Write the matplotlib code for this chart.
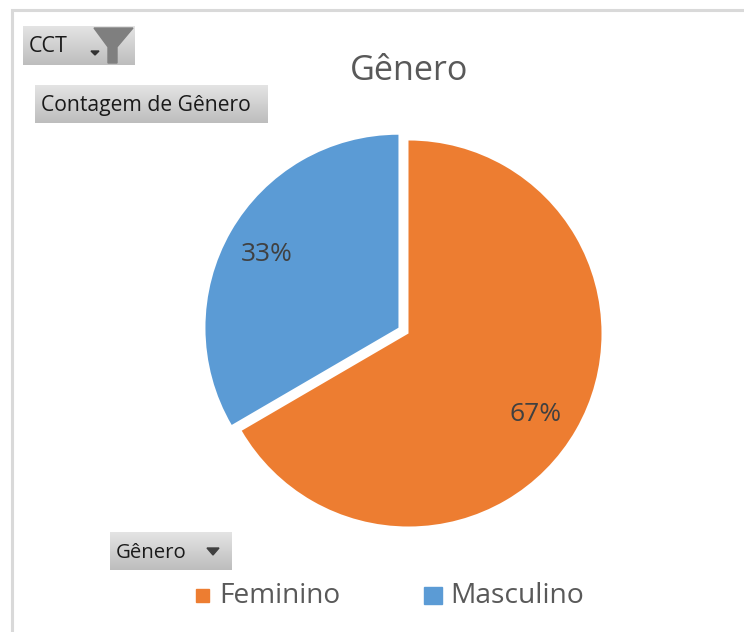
import numpy as np
import matplotlib
matplotlib.use("Agg")
import matplotlib.pyplot as plt
from matplotlib.patches import Rectangle, Polygon

# Datos del gráfico
categorias = ["Feminino", "Masculino"]
valores = [66.6, 33.4]
cores = ["#ED7D31", "#5B9BD5"]
titulo = "Gênero"

W, H = 744, 632
plt.rcParams["font.family"] = ["Open Sans", "DejaVu Sans"]

fig = plt.figure(figsize=(W / 100, H / 100), dpi=100, facecolor="white")

# Pastel: centro (408.5, 333.5) y radio de 193 px
cx, cy, r = 408.5, 333.5, 193
lado = r * 1.2
ax_pie = fig.add_axes([(cx - lado) / W, 1 - (cy + lado) / H, 2 * lado / W, 2 * lado / H], zorder=1)
_, _, etiquetas = ax_pie.pie(
    valores,
    colors=cores,
    explode=[0, 0.06],
    startangle=90,
    counterclock=False,
    autopct="%.0f%%",
    pctdistance=0.79,
    textprops={"fontsize": 19, "color": "#404040"},
)
for et in etiquetas:
    et.set_va("center_baseline")
# La etiqueta de Feminino queda un poco más hacia el centro en el original
x_et, y_et = etiquetas[0].get_position()
etiquetas[0].set_position((x_et - 0.027, y_et - 0.01))
ax_pie.set_xlim(-1.2, 1.2)
ax_pie.set_ylim(-1.2, 1.2)

# Capa en píxeles para marco, botones y leyenda
ax = fig.add_axes([0, 0, 1, 1], zorder=2)
ax.axis("off")
ax.patch.set_visible(False)

# Marco superior e izquierdo
ax.plot([11.5, 11.5, W], [H, 9.5, 9.5], color="#d9d9d9", lw=2.2, solid_joinstyle="miter")

gris = matplotlib.colors.LinearSegmentedColormap.from_list("gris", ["#e4e4e4", "#bdbdbd"])


def boton(x0, x1, y0, y1, texto, size):
    grad = np.linspace(0, 1, 64).reshape(-1, 1)
    ax.imshow(grad, extent=[x0, x1, y1, y0], cmap=gris, vmin=0, vmax=1, aspect="auto", zorder=3)
    ax.text(x0 + 6, (y0 + y1) / 2 + 1.5, texto, fontsize=size, color="#1a1a1a", va="center", ha="left", zorder=5)


boton(23, 135, 26, 65, "CCT", 15.5)
boton(35, 268, 85, 123, "Contagem de Gênero", 15.2)
boton(110, 232, 532, 570, "Gênero", 14.7)
ax.set_xlim(0, W)
ax.set_ylim(H, 0)

# Embudo del filtro y flechas de los botones
ax.add_patch(Polygon([(94, 28), (133, 28), (117, 47), (117, 63), (108, 63), (108, 47)], color="#7f7f7f", zorder=6))
ax.add_patch(Polygon([(91, 51), (99, 51), (95, 55)], color="#333333", zorder=6))
ax.add_patch(Polygon([(207, 548), (219, 548), (213, 555)], color="#404040", zorder=6))

# Título
ax.text(409.5, 71, titulo, fontsize=24.6, color="#595959", ha="center", va="center", zorder=5)

# Leyenda
ax.add_patch(Rectangle((196, 588.5), 13, 13.5, color=cores[0], zorder=5))
ax.add_patch(Rectangle((423.5, 587), 18.5, 17, color=cores[1], zorder=5))
ax.text(219, 596, categorias[0], fontsize=20.2, color="#595959", va="center", ha="left", zorder=5)
ax.text(450, 596, categorias[1], fontsize=20.3, color="#595959", va="center", ha="left", zorder=5)

fig.savefig("out.png", dpi=100)
